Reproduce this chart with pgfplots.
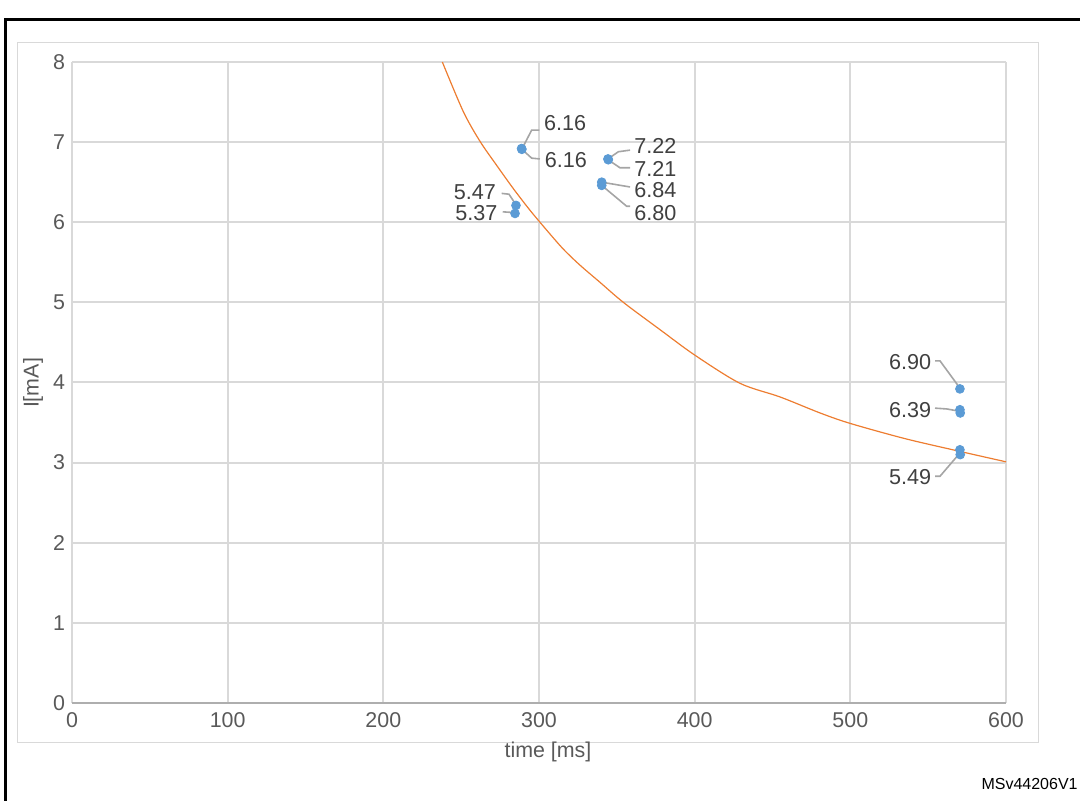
\documentclass[border=0pt]{standalone}
\usepackage{fontspec}
\setmainfont{Liberation Sans}
\usepackage{pgfplots}
\pgfplotsset{compat=1.18}
\definecolor{gridc}{HTML}{D9D9D9}
\definecolor{tickc}{HTML}{595959}
\definecolor{ser}{HTML}{5B9BD5}
\definecolor{curve}{HTML}{ED7D31}
\definecolor{lead}{HTML}{A5A5A5}
\definecolor{lbl}{HTML}{404040}
\begin{document}
\begin{tikzpicture}
\useasboundingbox (0,0) rectangle (540pt,400.5pt);
\draw[line width=1.5pt] (2.5pt,-5pt) -- (2.5pt,390.5pt) -- (545pt,390.5pt);
\draw[gridc, line width=0.5pt] (8.5pt,29pt) rectangle (519pt,379pt);
\begin{axis}[
  at={(36pt,49pt)}, anchor=south west, scale only axis,
  width=467pt, height=320.5pt,
  xmin=0, xmax=600, ymin=0, ymax=8,
  xtick={0,100,...,600}, ytick={0,1,...,8},
  grid=major, major grid style={gridc, line width=1pt},
  axis line style={draw=none},
  major tick length=0pt,
  tick label style={font=\fontsize{10.7}{12}\selectfont, color=tickc},
  xticklabel style={yshift=-1pt},
  /pgf/number format/assume math mode=true,
  clip=false,
]
\draw[color=gridc!80!black, line width=1pt] (axis cs:0,0) -- (axis cs:600,0);
\addplot[curve, line width=0.6pt, mark=none, smooth, tension=0.5] coordinates {
(237.9,8.00) (251.4,7.38) (262.1,7.01) (272.8,6.71) (283.5,6.42) (294.2,6.15)
(305,5.90) (315.6,5.665) (326.3,5.465) (339.2,5.25) (354.2,5.00) (377.7,4.66) (400.2,4.34)
(429.1,3.99) (454.8,3.82) (480.5,3.62) (499.8,3.49)
(535,3.30) (570.4,3.14) (600,3.01)
};
% leader lines
\begin{scope}[lead, line width=0.8pt]
\draw (axis cs:288.9,6.91) -- (axis cs:295.3,7.15) -- (axis cs:300.2,7.15);
\draw (axis cs:289.0,6.91) -- (axis cs:295.3,6.80) -- (axis cs:300.6,6.79);
\draw (axis cs:276.0,6.36) -- (axis cs:280.7,6.35) -- (axis cs:285.2,6.22);
\draw (axis cs:276.7,6.13) -- (axis cs:284.6,6.12);
\draw (axis cs:344.3,6.79) -- (axis cs:351,6.88) -- (axis cs:358.5,6.90);
\draw (axis cs:344.3,6.78) -- (axis cs:352,6.68) -- (axis cs:358.5,6.68);
\draw (axis cs:340.3,6.50) -- (axis cs:358.5,6.44);
\draw (axis cs:340.3,6.46) -- (axis cs:356.3,6.20) -- (axis cs:358.5,6.20);
\draw (axis cs:554.4,4.27) -- (axis cs:557.6,4.27) -- (axis cs:570.4,3.93);
\draw (axis cs:554.4,3.68) -- (axis cs:561.9,3.67) -- (axis cs:570.4,3.64);
\draw (axis cs:554.4,2.83) -- (axis cs:557.6,2.83) -- (axis cs:570.4,3.12);
\end{scope}
\addplot[only marks, mark=*, mark size=2.2pt, color=ser, mark options={fill=ser, draw=ser}] coordinates {
(288.8,6.92) (289.0,6.91)
(344.3,6.79) (344.5,6.78)
(340.3,6.50) (340.3,6.46)
(285.2,6.21) (284.6,6.11)
(570.4,3.92)
(570.4,3.66) (570.6,3.62)
(570.4,3.16) (570.6,3.10)
};
\begin{scope}[font=\fontsize{10.8}{12}\selectfont, text=lbl, inner sep=0pt]
\node[anchor=west] at (axis cs:303,7.24) {6.16};
\node[anchor=west] at (axis cs:303.5,6.78) {6.16};
\node[anchor=east] at (axis cs:272.5,6.38) {5.47};
\node[anchor=east] at (axis cs:273.5,6.11) {5.37};
\node[anchor=west] at (axis cs:361,6.95) {7.22};
\node[anchor=west] at (axis cs:361,6.67) {7.21};
\node[anchor=west] at (axis cs:361,6.40) {6.84};
\node[anchor=west] at (axis cs:361,6.12) {6.80};
\node[anchor=east] at (axis cs:552.2,4.25) {6.90};
\node[anchor=east] at (axis cs:552.2,3.66) {6.39};
\node[anchor=east] at (axis cs:552.2,2.82) {5.49};
\end{scope}
\end{axis}
\node[rotate=90, text=tickc, font=\fontsize{10.7}{12}\selectfont] at (16.5pt,209pt) {I[mA]};
\node[text=tickc, font=\fontsize{10.7}{12}\selectfont] at (274pt,24.5pt) {time [ms]};
\node[anchor=east, font=\fontsize{8}{10}\selectfont, inner sep=0pt] at (539pt,8.5pt) {MSv44206V1};
\end{tikzpicture}
\end{document}
